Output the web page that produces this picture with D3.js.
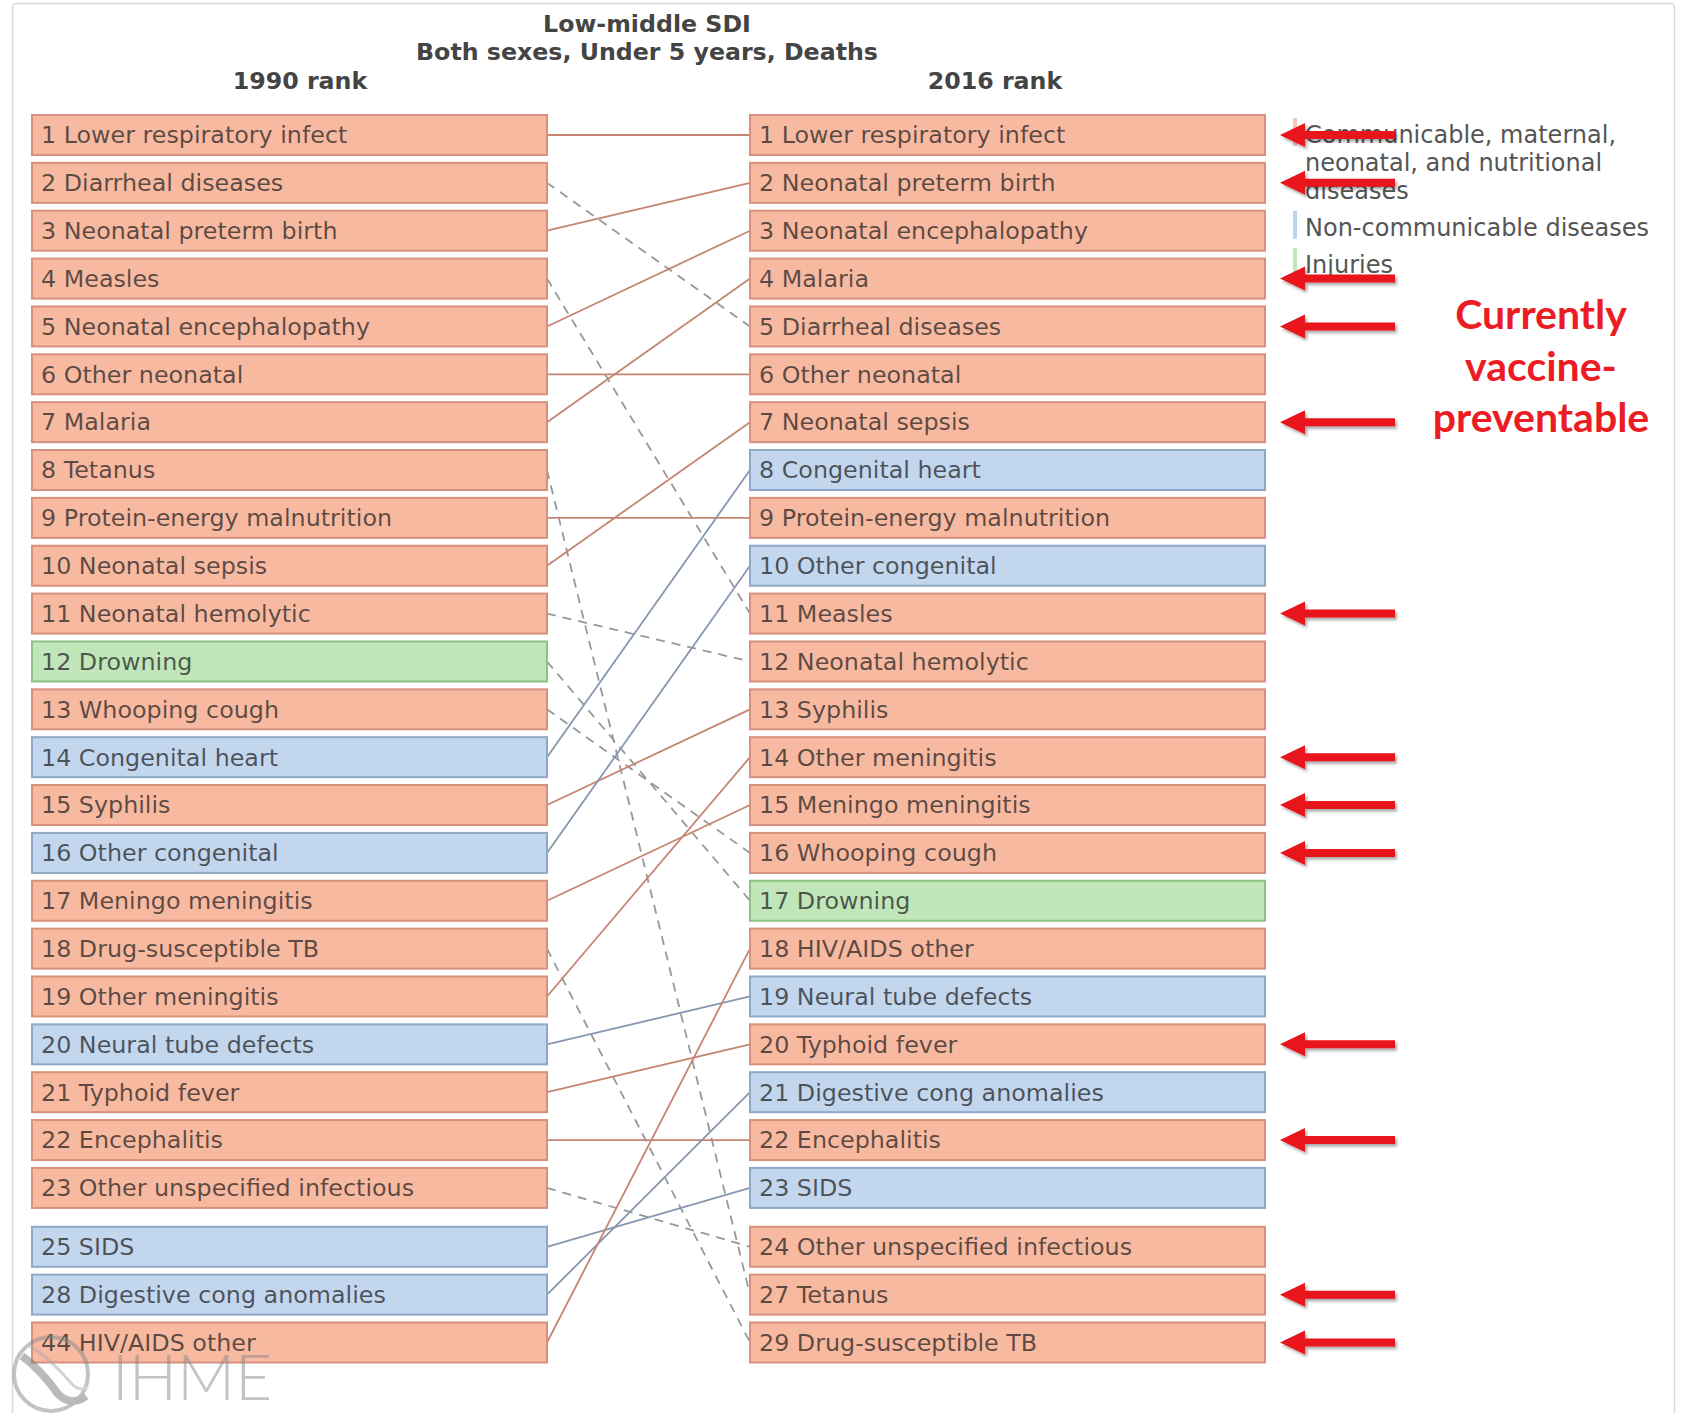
<!DOCTYPE html>
<html><head><meta charset="utf-8">
<script src="https://cdn.jsdelivr.net/npm/d3@7"></script>
<style>body{margin:0;background:#fff} svg{display:block}</style>
</head><body>
<svg id="chart" width="1682" height="1413"></svg>
<script>
// ---------- data ----------
const causes = ["Lower respiratory infect","Diarrheal diseases","Neonatal preterm birth","Measles",
  "Neonatal encephalopathy","Other neonatal","Malaria","Tetanus","Protein-energy malnutrition",
  "Neonatal sepsis","Neonatal hemolytic","Drowning","Whooping cough","Congenital heart","Syphilis",
  "Other congenital","Meningo meningitis","Drug-susceptible TB","Other meningitis","Neural tube defects",
  "Typhoid fever","Encephalitis","Other unspecified infectious","SIDS","Digestive cong anomalies","HIV/AIDS other"];
const rank1990 = [1,2,3,4,5,6,7,8,9,10,11,12,13,14,15,16,17,18,19,20,21,22,23,25,28,44];
const rank2016 = [1,5,2,11,3,6,4,27,9,7,12,17,16,8,13,10,15,29,14,19,20,22,24,23,21,18];
const groups   = ["C","C","C","C","C","C","C","C","C","C","C","I","C","N","C","N","C","C","C","N","C","C","C","N","N","C"];
const legendGroups = ["C","N","I"];
const legendLabels = [["Communicable, maternal,","neonatal, and nutritional","diseases"],["Non-communicable diseases"],["Injuries"]];
const vaccinePreventable2016 = [1,2,4,5,7,11,14,15,16,20,22,27,29];
const titleLines = ["Low-middle SDI","Both sexes, Under 5 years, Deaths"];
const columnTitles = ["1990 rank","2016 rank"];
const annotationLines = ["Currently","vaccine-","preventable"];

// ---------- styles ----------
const fill   = {C:"#f8b9a1", N:"#c2d6ee", I:"#c0e6ba"};
const border = {C:"#d6907c", N:"#8ea8c6", I:"#8cc385"};
const lineCol= {C:"#c48572", N:"#8797b0", I:"#8dbd86"};
const swatch = {C:"#f6c6b4", N:"#bcd3ee", I:"#bfe6b8"};

const svg = d3.select("#chart");
svg.append("rect").attr("width",1682).attr("height",1413).attr("fill","#fff");
svg.append("rect").attr("x",12.5).attr("y",3.5).attr("width",1662).attr("height",1430)
  .attr("rx",4).attr("fill","none").attr("stroke","#d9d9d9").attr("stroke-width",1.5);

const defs = svg.append("defs");
const f = defs.append("filter").attr("id","shadow").attr("x","-20%").attr("y","-50%").attr("width","140%").attr("height","200%");
f.append("feDropShadow").attr("dx",2).attr("dy",2.5).attr("stdDeviation",1.6).attr("flood-color","#000").attr("flood-opacity",0.35);

// ---------- layout ----------
const boxW = 515, boxH = 40, top0 = 115, step = 47.86, extraGap = 11, nMain = 23;
const x = d3.scaleOrdinal().domain(["1990","2016"]).range([32, 750]);
const ySlot = d3.scaleLinear().domain([0, nMain-1]).range([top0, top0 + (nMain-1)*step]);
const yTop = i => ySlot(i) + (i >= nMain ? extraGap : 0);

const rows = causes.map((c,i)=>({name:c, r90:rank1990[i], r16:rank2016[i], g:groups[i]}));
const order16 = rows.slice().sort((a,b)=>a.r16-b.r16);
rows.forEach((d,i)=>{ d.slot90 = i; });
order16.forEach((d,i)=>{ d.slot16 = i; });

// ---------- titles ----------
svg.selectAll("text.title").data(titleLines).join("text")
  .attr("x",647).attr("y",(d,i)=>32+i*28).attr("text-anchor","middle")
  .attr("font-family","DejaVu Sans").attr("font-weight","bold").attr("font-size",23.7)
  .attr("fill","#444").text(d=>d);
svg.selectAll("text.coltitle").data(columnTitles).join("text")
  .attr("x",(d,i)=>i?995:300).attr("y",89).attr("text-anchor","middle")
  .attr("font-family","DejaVu Sans").attr("font-weight","bold").attr("font-size",23.7)
  .attr("fill","#444").text(d=>d);

// ---------- connecting lines ----------
svg.append("g").selectAll("line").data(rows).join("line")
  .attr("x1", x("1990")+boxW).attr("x2", x("2016"))
  .attr("y1", d=>yTop(d.slot90)+boxH/2).attr("y2", d=>yTop(d.slot16)+boxH/2)
  .attr("stroke", d=> d.r16 <= d.r90 ? lineCol[d.g] : "#989898")
  .attr("stroke-width", 1.8)
  .attr("stroke-dasharray", d=> d.r16 <= d.r90 ? null : "9,7");

// ---------- boxes ----------
function column(data, key, slotKey, rankKey){
  const g = svg.append("g");
  const cell = g.selectAll("g").data(data).join("g")
    .attr("transform", d=>`translate(${x(key)},${yTop(d[slotKey])})`);
  cell.append("rect").attr("width",boxW).attr("height",boxH)
    .attr("fill",d=>fill[d.g]).attr("stroke",d=>border[d.g]).attr("stroke-width",2);
  cell.append("text").attr("x",9).attr("y",boxH/2).attr("dy","0.35em")
    .attr("font-family","DejaVu Sans").attr("font-size",23.8)
    .attr("fill","#1e1e1e").attr("fill-opacity",0.72)
    .text(d=>`${d[rankKey]} ${d.name}`);
}
column(rows, "1990", "slot90", "r90");
column(order16, "2016", "slot16", "r16");

// ---------- legend ----------
const lg = svg.append("g");
let ly = 118;
legendGroups.forEach((g,i)=>{
  lg.append("rect").attr("x",1293).attr("y",ly).attr("width",4).attr("height",28).attr("fill",swatch[g]);
  legendLabels[i].forEach((t,k)=>{
    lg.append("text").attr("x",1305).attr("y",ly+25+k*28)
      .attr("font-family","DejaVu Sans").attr("font-size",24).attr("fill","#555").text(t);
  });
  ly += legendLabels[i].length*28 + 9;
});

// ---------- red arrows & annotation ----------
const ag = svg.append("g").attr("filter","url(#shadow)");
vaccinePreventable2016.forEach(r=>{
  const d = order16.find(o=>o.r16===r);
  const y = yTop(d.slot16)+boxH/2;
  const p = d3.path();
  p.moveTo(1280,y); p.lineTo(1305,y-12); p.lineTo(1305,y-4); p.lineTo(1395,y-4);
  p.lineTo(1395,y+4); p.lineTo(1305,y+4); p.lineTo(1305,y+12); p.closePath();
  ag.append("path").attr("d",p.toString()).attr("fill","#e8131b");
});
svg.selectAll("text.annot").data(annotationLines).join("text")
  .attr("x",1541).attr("y",(d,i)=>329+i*51.5).attr("text-anchor","middle")
  .attr("font-family","Lato").attr("font-weight","bold").attr("font-size",41)
  .attr("fill","#ec1c24").text(d=>d);

// ---------- IHME logo ----------
const logo = svg.append("g").attr("opacity",0.5);
logo.append("circle").attr("cx",51).attr("cy",1374).attr("r",37).attr("fill","none").attr("stroke","#888").attr("stroke-width",4);
logo.append("path").attr("d","M22,1356 C36,1366 48,1380 58,1394 C66,1402 76,1404 86,1396").attr("fill","none").attr("stroke","#777").attr("stroke-width",8);
logo.append("path").attr("d","M30,1346 C46,1356 60,1370 72,1384 C78,1390 84,1390 88,1386").attr("fill","none").attr("stroke","#aaa").attr("stroke-width",3);
logo.append("text").attr("x",112).attr("y",1400).attr("font-family","Lato").attr("font-weight",300)
  .attr("font-size",64).attr("fill","#888").text("IHME");
</script>
</body></html>
